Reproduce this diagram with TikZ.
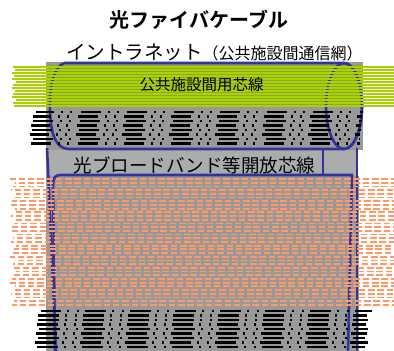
\documentclass[tikz,border=0pt]{standalone}
\usepackage{fontspec}
\newfontfamily\jpfont{Noto Sans CJK JP}[BoldFont={Noto Sans CJK JP Bold}]
\definecolor{cablegray}{RGB}{153,153,153}
\definecolor{bandgray}{RGB}{172,172,172}
\definecolor{lineblue}{RGB}{51,51,153}
\definecolor{coregreen}{RGB}{170,210,0}
\definecolor{greenfill}{RGB}{140,168,45}
\definecolor{coreorange}{RGB}{255,153,102}
\begin{document}
\begin{tikzpicture}[x=1pt,y=1pt,yscale=-1,
  outline/.style={draw=lineblue,line width=2.6pt},
  greencore/.style={draw=coregreen,line width=1.5pt},
  blackcore/.style={draw=black,line width=2.6pt,dash pattern=on 20pt off 7pt on 2pt off 7pt on 2pt off 8.5pt},
  blackcorelow/.style={draw=black,line width=2.8pt,dash pattern=on 21pt off 6pt on 2pt off 8pt on 2pt off 6pt},
  orangecore/.style={draw=coreorange,line width=1.8pt,dash pattern=on 6.5pt off 2.8pt},
  jptext/.style={font=\jpfont,inner sep=0pt}]
  \useasboundingbox (0,0) rectangle (394,351);

  %Shape: Rectangle (cable body)
  \fill[cablegray] (46,62) rectangle (363,150);
  \fill[bandgray] (46,150) rectangle (358,176);
  \fill[cablegray] (46,176) rectangle (359,351);
  \fill[greenfill] (46,65) rectangle (363,107);

  %Shape: upper cable outline
  \draw[outline] (64,63) -- (344,63) arc[start angle=-90,end angle=90,x radius=18,y radius=43]
    -- (68,149) .. controls (56,148) and (51,135) .. (50,112) .. controls (49,88) and (53,68) .. (64,63);
  \draw[outline] (344,106) ellipse[x radius=18,y radius=43];
  %Shape: lower cable outline
  \draw[outline] (47,148) -- (56,351);
  \draw[outline] (357,148) -- (357,351);
  \draw[outline] (55,351) -- (53,186) .. controls (53,178) and (55,175) .. (60,175) -- (352,175) -- (348,351);
  \draw[outline] (323,150) -- (323,175);

  %Lines: intranet cores
  \foreach \y/\xa in {67/13,70/15,73/12,76/14,79/12,82/16,85/13,88/12,91/15,94/13,97/12,100/16,103/13,106/14}
    \draw[greencore] (\xa,\y) -- (394,\y);

  %Lines: upper black cores
  \foreach \y/\xa/\xb/\off in {112/36/363/0,116.5/33/362/3,121/32/362/1,125.5/31/361/4,130/31/361/2,134.5/30/360/5,139/29/360/1,143.5/29/360/3}{
    \pgfmathsetmacro\ph{\xa+12.5+\off}
    \draw[blackcore,dash phase=\ph pt] (\xa,\y) -- (\xb,\y);
  }

  %Lines: broadband cores
  \foreach \i in {0,...,34}{
    \pgfmathsetmacro\yy{179+3.7*\i}
    \pgfmathsetmacro\xa{10+mod(5*\i,7)}
    \pgfmathsetmacro\ph{\xa+mod(floor(\i/3)*4,9)}
    \draw[orangecore,dash phase=\ph pt] (\xa,\yy) -- (394,\yy);
  }

  %Lines: lower black cores
  \foreach \y/\xa/\xb/\off in {311/41/372/0,315.5/37/367/2,320/37/368/2,324.5/36/366/3,329/36/368/1,333.5/35/367/4,338/34/365/2,342.5/33/368/5,347/34/365/3}{
    \pgfmathsetmacro\ph{\xa+5+\off}
    \draw[blackcorelow,dash phase=\ph pt] (\xa,\y) -- (\xb,\y);
  }

  % Text Node
  \node[jptext,font=\jpfont\bfseries\fontsize{20}{24}\selectfont,anchor=base] (title) at (199,27) {光ファイバケーブル};
  % Text Node
  \node[jptext,anchor=base west] (intranet) at (66,59) {{\fontsize{19.5}{22}\selectfont イントラネット}{\fontsize{16}{19}\selectfont （公共施設間通信網）}};
  % Text Node
  \node[jptext,font=\jpfont\fontsize{15.5}{18}\selectfont,anchor=base] (publiccore) at (201.5,90) {公共施設間用芯線};
  % Text Node
  \node[jptext,font=\jpfont\fontsize{18.5}{22}\selectfont,anchor=base] (opencore) at (194.5,172.5) {光ブロードバンド等開放芯線};
\end{tikzpicture}
\end{document}
